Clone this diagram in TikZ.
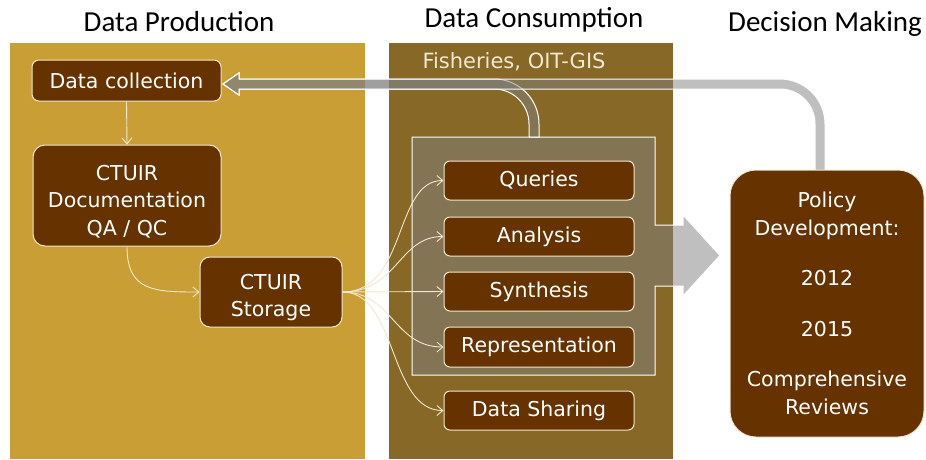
\documentclass[tikz,border=0pt]{standalone}
\usepackage{fontspec}
\setmainfont{DejaVu Sans}
\newfontfamily\titlefont{Carlito}
\usetikzlibrary{arrows.meta}
\definecolor{gold}{HTML}{C99F35}
\definecolor{olive}{HTML}{876827}
\definecolor{boxbrown}{HTML}{663300}
\definecolor{cream}{HTML}{F2E8CF}
\begin{document}
\begin{tikzpicture}[x=1pt,y=-1pt,
  box/.style={draw=cream, line width=1pt, fill=boxbrown, rounded corners=7pt, text=white,
    font=\fontsize{20.5}{27.5}\selectfont, align=center, inner sep=0pt},
  conn/.style={draw=cream, line width=0.9pt, -{Straight Barb[length=6pt,width=10pt]}},
  band/.style={fill=gray, fill opacity=0.5, draw=white, line width=1pt},
  title/.style={font=\titlefont\fontsize{29}{32}\selectfont, text=black, anchor=base}
]
\useasboundingbox (0,0) rectangle (926,459);
% panels
\fill[gold] (10,43) rectangle (365,459);
\fill[olive] (389,43) rectangle (673,459);
% titles
\node[title] (t1) at (179,31) {Data Production};
\node[title] (t2) at (534,27) {Data Consumption};
\node[title] (t3) at (825,31) {Decision Making};
\node[anchor=west, text=cream, font=\fontsize{21}{23}\selectfont] (fish) at (419,62) {Fisheries, OIT-GIS};
% inner box with arrow
\path[band] (412,137) -- (655,137) -- (655,225) -- (683,225) -- (683,215) -- (720,255.5)
  -- (683,296) -- (683,286) -- (655,286) -- (655,375) -- (412,375) -- cycle;
% branch band
\path[band] (529,137) -- (529,124) arc[start angle=0, end angle=90, radius=35pt]
  -- (239,89) -- (239,95) -- (223,84) -- (239,73) -- (239,79) -- (494,79)
  arc[start angle=90, end angle=0, radius=45pt] -- (539,137) -- cycle;
% main return band
\path[band] (239,79) -- (780,79) arc[start angle=90, end angle=0, radius=45pt]
  -- (825,172) -- (815,172) -- (815,124) arc[start angle=0, end angle=90, radius=35pt]
  -- (239,89) -- (239,95) -- (223,84) -- (239,73) -- cycle;
% boxes
\node[box, minimum width=189pt, minimum height=41pt] (dc) at (126.5,80.5) {Data collection};
\node[box, minimum width=188pt, minimum height=101pt, rounded corners=12pt] (doc) at (127,195.5) {\rule{0pt}{27pt}CTUIR\\Documentation\\QA / QC};
\node[box, minimum width=142pt, minimum height=70pt, rounded corners=10pt] (st) at (271,292) {\rule{0pt}{26pt}CTUIR\\Storage};
\node[box, minimum width=190pt, minimum height=39pt, rounded corners=6pt] (q) at (539,180.5) {Queries};
\node[box, minimum width=190pt, minimum height=39pt, rounded corners=6pt] (an) at (539,236.5) {Analysis};
\node[box, minimum width=190pt, minimum height=39pt, rounded corners=6pt] (sy) at (539,291.5) {Synthesis};
\node[box, minimum width=190pt, minimum height=40pt, rounded corners=6pt] (re) at (539,347) {Representation};
\node[box, minimum width=190pt, minimum height=39pt, rounded corners=6pt] (ds) at (539,410.5) {Data Sharing};
\node[box, minimum width=194pt, minimum height=267pt, rounded corners=26pt] (pol) at (827,303.5)
  {Policy\\Development:\\[23pt]2012\\[23pt]2015\\[23pt]Comprehensive\\Reviews};
% connectors
\draw[conn] (dc.south) -- (doc.north);
\draw[conn] (doc.south) .. controls +(0,45) and +(-45,0) .. (st.west);
\draw[conn] (st.east) .. controls +(65,0) and +(-50,0) .. (q.west);
\draw[conn] (st.east) .. controls +(55,0) and +(-45,0) .. (an.west);
\draw[conn] (st.east) -- (sy.west);
\draw[conn] (st.east) .. controls +(50,0) and +(-50,0) .. (re.west);
\draw[conn] (st.east) .. controls +(55,0) and +(-55,0) .. (ds.west);
\end{tikzpicture}
\end{document}
